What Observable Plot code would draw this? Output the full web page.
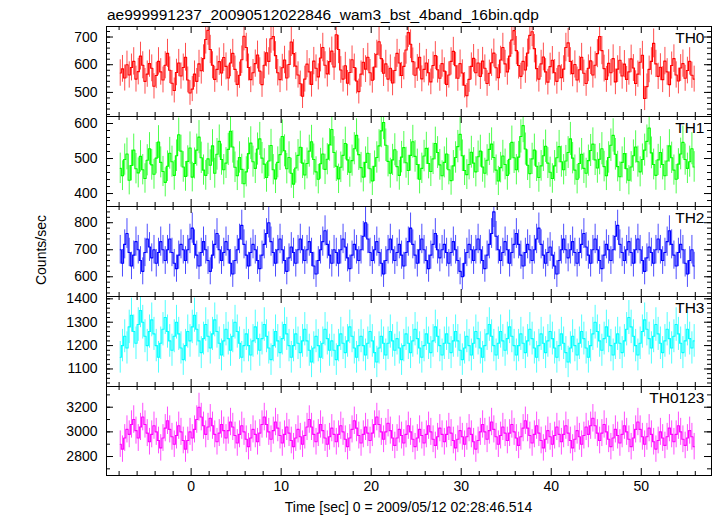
<!DOCTYPE html>
<html><head><meta charset="utf-8">
<script src="https://cdn.jsdelivr.net/npm/d3@7"></script>
<script src="https://cdn.jsdelivr.net/npm/@observablehq/plot@0.6"></script>
<style>
body{margin:0;background:#fff;}
#chart{position:relative;width:717px;height:516px;overflow:hidden;font-family:"Liberation Sans",Arial,Helvetica,sans-serif;color:#000;}
.abs{position:absolute;white-space:nowrap;line-height:1;}
</style></head><body><div id="chart"></div>
<script>
const title = "ae999991237_20090512022846_wam3_bst_4band_16bin.qdp";
const xLabel = "Time [sec] 0 = 2009/05/12 02:28:46.514";
const yLabel = "Counts/sec";
const t0 = -8, dt = 0.25;
const names = ["TH0","TH1","TH2","TH3","TH0123"];
const colors = ["#ff0000","#00ff00","#0000ff","#00ffff","#ff00ff"];

const th0 = [
570,585,552,600,563,590,612,548,575,631,598,540,566,604,587,522,
561,612,574,545,598,641,580,533,507,572,606,559,590,627,545,498,
512,566,540,603,578,622,691,724,655,598,547,583,611,570,626,594,
552,606,641,583,529,562,618,703,662,590,546,571,604,635,577,528,
598,643,612,694,702,633,571,546,589,617,552,601,682,640,595,563,
531,486,548,602,574,529,613,587,556,624,662,598,567,611,649,592,
708,655,581,548,596,533,572,618,590,541,503,566,609,584,627,571,
544,592,638,683,622,569,603,548,587,534,579,641,606,561,594,653,
716,674,611,562,588,627,549,583,606,571,538,597,633,582,551,604,
577,529,563,612,648,596,551,604,570,526,488,547,594,623,571,606,
558,613,587,532,569,607,642,589,553,617,662,603,574,631,689,723,
651,597,558,612,581,642,706,719,658,586,548,603,628,574,537,593,
616,571,540,596,553,584,662,679,612,568,601,545,582,627,569,532,
587,614,563,598,640,702,651,586,547,605,571,622,538,584,616,559,
602,547,574,621,588,532,566,609,634,478,521,583,612,677,603,558,
591,546,613,574,528,597,622,563,541,588,604,551,579,612,562,548];

const th1 = [
472,451,497,513,438,480,524,471,459,506,468,443,495,528,482,455,
501,547,489,463,432,478,515,491,452,508,568,521,476,449,492,530,
447,486,524,561,502,467,452,499,481,536,458,512,549,497,468,487,
526,578,533,475,451,503,469,428,462,514,544,491,472,527,556,501,
484,446,493,537,468,442,489,511,563,522,471,503,458,427,473,509,
532,487,453,486,521,548,497,462,441,485,513,469,498,539,583,517,
478,442,475,509,543,496,461,494,528,566,511,474,447,489,515,471,
436,478,503,536,579,603,538,492,458,496,525,477,452,504,531,488,
466,509,548,506,483,441,472,507,529,486,463,499,543,517,482,451,
489,513,468,437,479,503,534,569,508,466,454,483,518,487,462,505,
521,476,458,495,526,541,503,467,436,474,507,483,452,498,546,502,
468,504,563,594,527,481,457,499,524,478,446,479,508,535,487,461,
443,479,502,534,491,468,493,517,556,501,467,441,486,512,472,458,
494,523,541,496,473,498,528,477,451,503,538,566,512,477,448,489,
514,471,438,476,508,533,491,462,497,524,549,587,516,483,452,496,
517,483,451,493,536,502,467,441,484,513,546,497,472,491,528,476];

const th2 = [
700,650,720,760,690,640,680,730,700,660,620,690,740,710,670,700,
650,690,730,700,660,700,740,690,650,630,680,720,700,660,700,740,
780,720,680,640,690,730,700,660,620,680,720,760,700,660,690,730,
700,650,610,660,700,740,790,720,680,640,690,720,700,660,630,680,
720,760,800,730,690,650,700,740,700,660,620,670,710,690,650,700,
740,700,660,700,730,690,640,610,660,700,730,770,720,680,650,700,
690,650,700,740,710,670,630,680,720,700,660,700,750,800,740,690,
660,700,730,690,650,610,660,700,740,700,660,690,720,680,640,690,
730,780,720,680,650,700,740,700,660,630,680,720,760,700,670,700,
720,690,650,690,730,700,660,620,600,650,690,720,700,660,700,740,
700,660,630,680,720,760,840,750,700,660,690,730,700,650,690,720,
760,720,680,640,690,720,700,660,700,740,780,720,680,650,690,710,
680,640,610,660,700,740,700,670,700,730,690,650,690,720,760,710,
680,650,700,740,700,660,630,680,720,700,660,700,750,790,720,690,
660,700,730,690,650,700,740,700,660,620,670,710,690,650,700,740,
700,660,690,730,770,720,680,640,690,720,700,650,610,660,700,640];

const th3 = [
1150,1200,1240,1190,1280,1330,1260,1210,1290,1350,1300,1240,1200,1260,1310,1250,
1200,1150,1210,1270,1320,1260,1220,1180,1240,1300,1250,1190,1140,1200,1260,1220,
1280,1330,1270,1220,1170,1230,1290,1240,1190,1250,1310,1260,1210,1160,1220,1270,
1230,1180,1240,1300,1260,1210,1150,1200,1250,1200,1160,1220,1280,1230,1180,1230,
1290,1240,1190,1140,1200,1260,1220,1170,1230,1290,1250,1200,1150,1200,1250,1210,
1170,1220,1270,1220,1180,1130,1190,1240,1200,1150,1210,1270,1230,1180,1220,1180,
1140,1200,1250,1210,1170,1220,1280,1240,1190,1150,1200,1240,1200,1160,1210,1260,
1220,1170,1130,1190,1240,1210,1160,1210,1260,1220,1180,1230,1190,1140,1200,1250,
1210,1170,1220,1270,1230,1190,1150,1200,1250,1210,1170,1220,1280,1240,1200,1160,
1210,1250,1210,1170,1220,1260,1220,1180,1140,1190,1240,1200,1160,1210,1260,1230,
1190,1150,1200,1250,1290,1240,1200,1160,1210,1260,1220,1180,1230,1280,1240,1200,
1160,1200,1250,1210,1170,1220,1270,1230,1190,1150,1200,1250,1210,1170,1220,1260,
1230,1190,1150,1200,1250,1210,1170,1130,1190,1240,1200,1160,1210,1260,1230,1190,
1150,1200,1250,1300,1260,1220,1180,1230,1280,1240,1200,1160,1210,1250,1210,1170,
1220,1270,1320,1280,1240,1200,1160,1210,1260,1310,1270,1230,1190,1240,1290,1250,
1210,1170,1220,1270,1230,1190,1240,1290,1250,1210,1170,1220,1270,1230,1190,1220];

const th0123 = [
2900,2860,2950,3020,2980,3060,3100,3010,2950,3040,3120,3060,2990,2920,2980,3050,
3000,2930,2870,2950,3030,3090,3020,2960,2900,2970,3050,3000,2930,2860,2930,3000,
2950,3020,3100,3200,3120,3050,2980,3040,3110,3050,2980,2920,2990,3060,3010,2950,
3010,3080,3040,2970,2910,2980,3050,3000,2940,2880,2950,3020,2980,2920,2990,3060,
3120,3060,3000,2940,3010,3080,3030,2970,2910,2980,3040,2990,2930,2880,2950,3020,
2960,2900,2970,3040,3100,3040,2980,2920,2990,3060,3010,2950,2900,2960,3030,2980,
2920,2980,3050,3000,2940,2880,2950,3020,3090,3030,2970,2910,2980,3040,2990,2930,
2990,3060,3120,3060,3000,2940,3000,3070,3010,2950,2890,2950,3020,2970,2910,2980,
3050,3000,2940,2880,2950,3020,2970,2910,2980,3050,3000,2940,2890,2960,3030,2980,
2920,2980,3040,2990,2930,2870,2940,3010,2960,2900,2960,3030,2980,2920,2860,2930,
3000,3060,3000,2940,3010,3080,3020,2960,2900,2970,3040,2990,2930,2990,3060,3000,
2950,2890,2960,3030,3090,3030,2970,2910,2980,3050,2990,2930,2870,2940,3010,2960,
2900,2970,3040,2980,2920,2980,3050,2990,2930,2870,2940,3010,2960,2900,2970,3040,
2980,3050,3110,3050,2990,2930,2990,3060,3000,2940,2880,2950,3020,2970,2910,2980,
3050,3000,2940,2880,2950,3020,3080,3020,2960,2900,2960,3030,2980,2920,2860,2930,
3000,2950,2890,2960,3030,2980,2920,2980,3050,3000,2940,2890,2950,3010,2960,2880];

const series = [th0, th1, th2, th3, th0123];
const xDomain = [-9.4, 57.8];
const xMajor = [0, 10, 20, 30, 40, 50];
const xMinor = [-8,-6,-4,-2,2,4,6,8,12,14,16,18,22,24,26,28,32,34,36,38,42,44,46,48,52,54,56];
const yDomains = [[413,738],[363,620],[527,860],[1025,1410],[2646,3368]];
const yMajor = [[500,600,700],[400,500,600],[600,700,800],[1100,1200,1300,1400],[2800,3000,3200]];
const yMinorStep = [20,20,20,20,100];

const W = 717, mL = 106, mR = 6, innerW = W - mL - mR;
const tops = [26, 116, 206, 296, 386];
const heights = [90, 90, 90, 90, 89];
const chart = document.getElementById("chart");
const font = '"Liberation Sans",Arial,Helvetica,sans-serif';

series.forEach((vals, k) => {
  const h = heights[k];
  const last = k === series.length - 1;
  const data = vals.map((v, i) => ({t: t0 + dt * (i + 0.5), v, e: Math.sqrt(v / dt)}));
  const [lo, hi] = yDomains[k];
  const step = yMinorStep[k];
  const yMinor = d3.range(Math.ceil(lo / step) * step, hi, step);
  const marks = [
    Plot.ruleX(data, {x: "t", y1: d => d.v - d.e, y2: d => d.v + d.e, stroke: colors[k], strokeWidth: 1, strokeOpacity: 0.7, clip: true}),
    Plot.line(data, {x: "t", y: "v", curve: "step", stroke: colors[k], strokeWidth: 1.1, clip: true}),
    Plot.tickX(xMinor, {x: d => d, insetTop: h - 4, stroke: "black"}),
    Plot.tickX(xMinor, {x: d => d, insetBottom: h - 4, stroke: "black"}),
    Plot.tickX(xMajor, {x: d => d, insetTop: h - 7, stroke: "black"}),
    Plot.tickX(xMajor, {x: d => d, insetBottom: h - 7, stroke: "black"}),
    Plot.tickY(yMinor, {y: d => d, insetRight: innerW - 4, stroke: "black"}),
    Plot.tickY(yMinor, {y: d => d, insetLeft: innerW - 4, stroke: "black"}),
    Plot.tickY(yMajor[k], {y: d => d, insetRight: innerW - 7, stroke: "black"}),
    Plot.tickY(yMajor[k], {y: d => d, insetLeft: innerW - 7, stroke: "black"}),
    Plot.axisY({ticks: yMajor[k], tickSize: 0, tickPadding: 9, fontSize: 14, label: null, tickFormat: d => String(d)}),
    Plot.text([names[k]], {text: d => d, frameAnchor: "top-right", textAnchor: "end", lineAnchor: "top", dx: -7, dy: 5, fontSize: 15.5, fill: "black"}),
    Plot.frame({stroke: "black"})
  ];
  if (last) marks.push(Plot.axisX({ticks: xMajor, tickSize: 0, tickPadding: 6, fontSize: 14, label: null, tickFormat: d => String(d)}));
  const svg = Plot.plot({
    width: W, height: h + (last ? 41 : 0),
    marginLeft: mL, marginRight: mR, marginTop: 0, marginBottom: last ? 41 : 0,
    x: last ? {domain: xDomain} : {domain: xDomain, axis: null},
    y: {domain: [lo, hi], axis: null},
    style: {fontFamily: font, fontSize: "14px", background: "transparent", overflow: "visible", color: "black"},
    marks
  });
  svg.style.position = "absolute";
  svg.style.left = "0px";
  svg.style.top = tops[k] + "px";
  svg.style.overflow = "visible";
  chart.appendChild(svg);
});

function addText(txt, css) {
  const d = document.createElement("div");
  d.className = "abs";
  d.textContent = txt;
  Object.assign(d.style, css);
  chart.appendChild(d);
}
addText(title, {left: "107px", top: "7px", fontSize: "15.5px"});
addText(xLabel, {left: "108.5px", top: "500px", width: "600px", textAlign: "center", fontSize: "14px"});
addText(yLabel, {left: "-59px", top: "243px", width: "200px", textAlign: "center", fontSize: "14px", transform: "rotate(-90deg)"});
</script></body></html>
